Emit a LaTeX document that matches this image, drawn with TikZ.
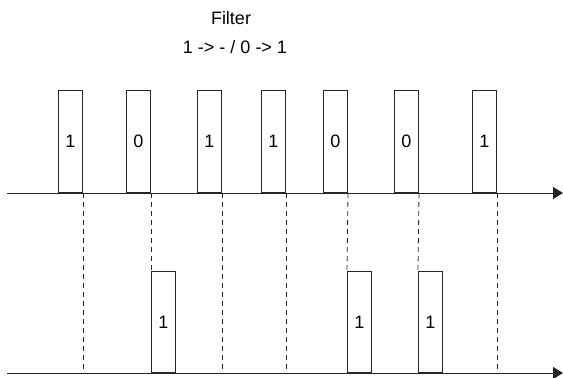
\documentclass[tikz,border=0pt]{standalone}
\usepackage{fontspec}
\setmainfont{Liberation Sans}
\usetikzlibrary{arrows.meta}
\begin{document}
\begin{tikzpicture}[x=1pt,y=-1pt,
  lc/.style={draw=black!85, line width=1pt},
  bit/.style={lc, fill=white, minimum width=24pt, inner sep=0pt, anchor=south west, font=\fontsize{18}{20}\selectfont},
  topbit/.style={bit, minimum height=102pt},
  botbit/.style={bit, minimum height=101pt},
  axis/.style={lc, -{Triangle[length=10pt,width=12pt]}},
  guide/.style={draw=black!85, line width=0.8pt, dash pattern=on 5pt off 4pt},
  lbl/.style={font=\fontsize{18}{20}\selectfont, inner sep=0pt}]
\useasboundingbox (0,0) rectangle (563,378);
% titles
\node[lbl] (title) at (231,18) {Filter};
\node[lbl] (rule) at (235,47) {1 -> - / 0 -> 1};
% axes
\coordinate (ta0) at (7,193);
\coordinate (ta1) at (563,193);
\coordinate (ba0) at (7,373);
\coordinate (ba1) at (563,373);
% top bits
\node[topbit] (t1) at (58,193) {1};
\node[topbit] (t2) at (126,193) {0};
\node[topbit] (t3) at (197,193) {1};
\node[topbit] (t4) at (261,193) {1};
\node[topbit] (t5) at (323,193) {0};
\node[topbit] (t6) at (394,193) {0};
\node[topbit] (t7) at (472,193) {1};
% bottom bits
\node[botbit] (b1) at (151,373) {1};
\node[botbit] (b2) at (347,373) {1};
\node[botbit] (b3) at (418,373) {1};
% guide coordinates on lower axis
\coordinate (g1) at (t1.south east |- ba0);
\coordinate (g3) at (t3.south east |- ba0);
\coordinate (g4) at (t4.south east |- ba0);
\coordinate (g7) at (t7.south east |- ba0);
% dashed guides
\draw[guide] (t1.south east) -- (g1);
\draw[guide] (t2.south east) -- (b1.north west);
\draw[guide] (t3.south east) -- (g3);
\draw[guide] (t4.south east) -- (g4);
\draw[guide] (t5.south east) -- (b2.north west);
\draw[guide] (t6.south east) -- (b3.north west);
\draw[guide] (t7.south east) -- (g7);
% axes drawn on top
\draw[axis] (ta0) -- (ta1);
\draw[axis] (ba0) -- (ba1);
\end{tikzpicture}
\end{document}
